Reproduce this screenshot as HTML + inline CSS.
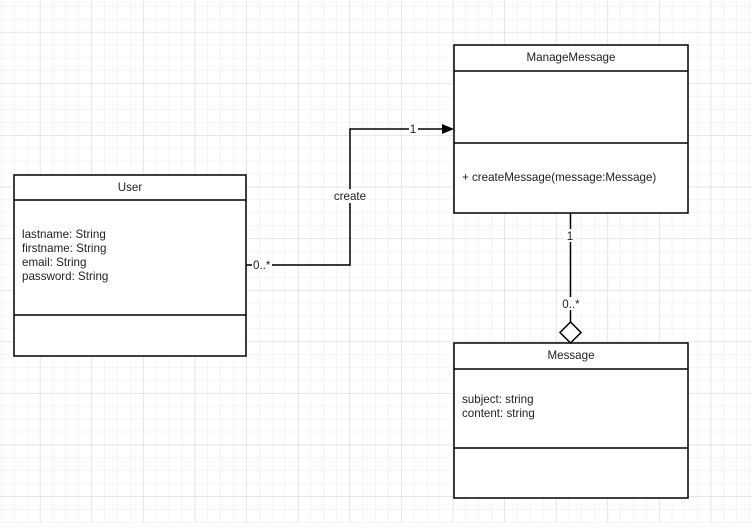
<!DOCTYPE html>
<html><head><style>html,body{margin:0;padding:0;background:#fff}</style></head>
<body>
<svg width="752" height="523" xmlns="http://www.w3.org/2000/svg" font-family="Liberation Sans, sans-serif" font-size="11.6">
<defs>
<pattern id="g" x="1" y="6" width="12.9" height="12.9" patternUnits="userSpaceOnUse">
<path d="M0 0H12.9M0 0V12.9" stroke="#ebebeb" stroke-width="1" fill="none"/>
</pattern>
<pattern id="G" x="40" y="32" width="51.6" height="51.6" patternUnits="userSpaceOnUse">
<path d="M0 0H51.6M0 0V51.6" stroke="#d9d9d9" stroke-width="1" fill="none"/>
</pattern>
</defs>
<rect width="752" height="523" fill="url(#g)"/>
<rect width="752" height="523" fill="url(#G)"/>
<g stroke="#000" stroke-width="1.5" fill="#fff">
<rect x="14" y="175" width="232" height="181"/>
<line x1="14" y1="200" x2="246" y2="200"/>
<line x1="14" y1="315" x2="246" y2="315"/>
<rect x="454" y="45" width="234" height="168"/>
<line x1="454" y1="71" x2="688" y2="71"/>
<line x1="454" y1="143" x2="688" y2="143"/>
<rect x="454" y="343" width="234" height="155"/>
<line x1="454" y1="369" x2="688" y2="369"/>
<line x1="454" y1="448" x2="688" y2="448"/>
<polyline points="246,265 350,265 350,129 443,129" fill="none"/>
<line x1="570.5" y1="213" x2="570.5" y2="322"/>
<polygon points="570.5,322 581,332.5 570.5,343 560,332.5"/>
</g>
<polygon points="442,124 454,129 442,134" fill="#000"/>
<g fill="#fff">
<rect x="252" y="258" width="20" height="13"/>
<rect x="332" y="189" width="36" height="14"/>
<rect x="409" y="122" width="9" height="13"/>
<rect x="564" y="229" width="12" height="13"/>
<rect x="560" y="297" width="22" height="13"/>
</g>
<g fill="#222">
<text x="130" y="191" text-anchor="middle">User</text>
<text x="571" y="61" text-anchor="middle">ManageMessage</text>
<text x="571" y="359" text-anchor="middle">Message</text>
<text x="22" y="238">lastname: String</text>
<text x="22" y="252">firstname: String</text>
<text x="22" y="266">email: String</text>
<text x="22" y="280">password: String</text>
<text x="462" y="181">+ createMessage(message:Message)</text>
<text x="462" y="403">subject: string</text>
<text x="462" y="417">content: string</text>
<text x="253" y="269">0..*</text>
<text x="350" y="200" text-anchor="middle">create</text>
<text x="413" y="133" text-anchor="middle">1</text>
<text x="570" y="240" text-anchor="middle">1</text>
<text x="571" y="308" text-anchor="middle">0..*</text>
</g>
</svg>
</body></html>
